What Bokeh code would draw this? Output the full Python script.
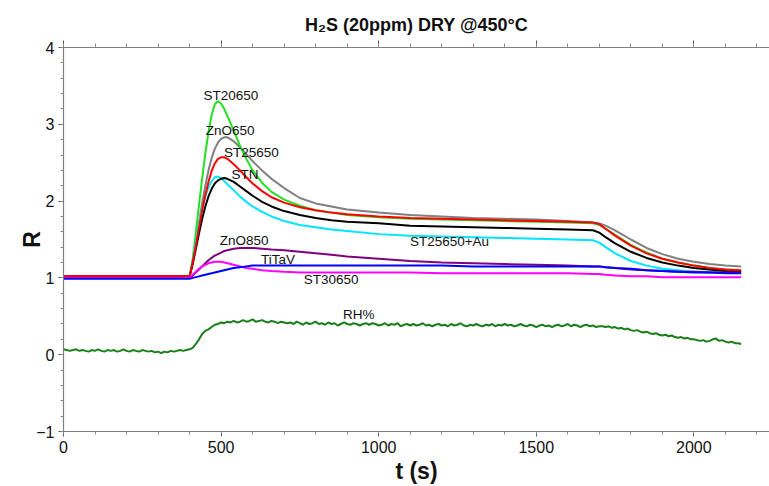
from bokeh.plotting import figure
from bokeh.models import LinearAxis, SingleIntervalTicker, Label, CustomJSTickFormatter
from bokeh.embed import file_html
from bokeh.resources import INLINE

# Sensor response R versus time (s) on a shared time grid
t = [0, 390, 400, 410, 420, 430, 440, 450, 460, 470, 480, 490, 500, 510, 520,
     540, 560, 580, 600, 630, 660, 700, 750, 800, 850, 900, 1000, 1100, 1200,
     1300, 1400, 1500, 1600, 1680, 1700, 1720, 1750, 1800, 1850, 1900, 1950,
     2000, 2050, 2100, 2150]

st20650 = [1.00, 1.00, 1.01, 1.25, 1.60, 1.95, 2.30, 2.62, 2.90, 3.12, 3.26, 3.30, 3.27, 3.20, 3.11,
           2.92, 2.72, 2.55, 2.40, 2.24, 2.12, 2.02, 1.94, 1.88, 1.85, 1.82, 1.79, 1.77, 1.76,
           1.75, 1.74, 1.73, 1.72, 1.71, 1.69, 1.64, 1.56, 1.43, 1.33, 1.25, 1.20,
           1.16, 1.13, 1.11, 1.09]
zno650 = [1.00, 1.00, 1.01, 1.20, 1.45, 1.72, 1.98, 2.20, 2.40, 2.56, 2.68, 2.76, 2.81, 2.83, 2.83,
          2.78, 2.70, 2.61, 2.52, 2.40, 2.29, 2.17, 2.04, 1.97, 1.93, 1.89, 1.85, 1.82, 1.80,
          1.78, 1.77, 1.76, 1.74, 1.72, 1.71, 1.68, 1.62, 1.50, 1.39, 1.31, 1.25,
          1.21, 1.18, 1.16, 1.15]
st25650 = [1.02, 1.02, 1.02, 1.20, 1.42, 1.66, 1.88, 2.08, 2.25, 2.39, 2.49, 2.55, 2.57, 2.57, 2.55,
           2.48, 2.40, 2.31, 2.23, 2.13, 2.05, 1.98, 1.92, 1.88, 1.85, 1.83, 1.80, 1.78, 1.77,
           1.76, 1.75, 1.74, 1.73, 1.72, 1.70, 1.64, 1.55, 1.42, 1.32, 1.25, 1.20,
           1.16, 1.13, 1.11, 1.10]
stn = [1.02, 1.02, 1.02, 1.18, 1.38, 1.58, 1.77, 1.93, 2.06, 2.16, 2.23, 2.27, 2.29, 2.30, 2.29,
       2.25, 2.19, 2.13, 2.07, 1.99, 1.93, 1.87, 1.82, 1.78, 1.75, 1.73, 1.71, 1.68, 1.67,
       1.66, 1.65, 1.64, 1.63, 1.62, 1.59, 1.53, 1.45, 1.34, 1.26, 1.20, 1.16,
       1.13, 1.11, 1.09, 1.08]
st25650_au = [1.00, 1.00, 1.01, 1.22, 1.47, 1.70, 1.90, 2.06, 2.18, 2.26, 2.31, 2.32, 2.30, 2.26, 2.22,
              2.14, 2.06, 1.99, 1.93, 1.86, 1.80, 1.74, 1.69, 1.66, 1.63, 1.61, 1.57, 1.55, 1.54,
              1.53, 1.52, 1.51, 1.50, 1.49, 1.46, 1.40, 1.32, 1.22, 1.16, 1.12, 1.10,
              1.08, 1.08, 1.07, 1.07]
zno850 = [1.00, 1.00, 1.00, 1.03, 1.07, 1.11, 1.15, 1.19, 1.23, 1.26, 1.29, 1.31, 1.33, 1.35, 1.36,
          1.38, 1.39, 1.39, 1.39, 1.38, 1.37, 1.36, 1.34, 1.32, 1.30, 1.28, 1.25, 1.22, 1.20,
          1.19, 1.18, 1.17, 1.16, 1.15, 1.15, 1.14, 1.13, 1.11, 1.10, 1.09, 1.08,
          1.08, 1.07, 1.07, 1.07]
titav = [0.99, 0.99, 0.99, 1.00, 1.01, 1.02, 1.03, 1.04, 1.05, 1.06, 1.07, 1.08, 1.09, 1.10, 1.11,
         1.13, 1.14, 1.15, 1.16, 1.16, 1.16, 1.16, 1.16, 1.16, 1.16, 1.16, 1.16, 1.16, 1.16,
         1.15, 1.15, 1.15, 1.15, 1.15, 1.15, 1.14, 1.13, 1.12, 1.10, 1.09, 1.08,
         1.07, 1.07, 1.06, 1.06]
st30650 = [1.00, 1.00, 1.00, 1.04, 1.08, 1.12, 1.15, 1.17, 1.19, 1.20, 1.21, 1.21, 1.21, 1.20, 1.19,
           1.17, 1.15, 1.13, 1.12, 1.10, 1.09, 1.08, 1.07, 1.07, 1.07, 1.07, 1.07, 1.07, 1.06,
           1.06, 1.06, 1.06, 1.06, 1.05, 1.05, 1.04, 1.03, 1.02, 1.02, 1.01, 1.01,
           1.01, 1.01, 1.01, 1.01]

# Relative humidity trace, sampled every 10 s
rh_t = list(range(0, 2160, 10))
rh = [0.07, 0.06, 0.05, 0.06, 0.07, 0.05, 0.06, 0.05, 0.04, 0.06,
      0.05, 0.07, 0.05, 0.04, 0.06, 0.05, 0.06, 0.04, 0.05, 0.07,
      0.05, 0.04, 0.06, 0.05, 0.04, 0.06, 0.05, 0.04, 0.05, 0.03,
      0.04, 0.02, 0.04, 0.03, 0.05, 0.04, 0.05, 0.06, 0.05, 0.06,
      0.07,
      0.09, 0.14, 0.20, 0.27, 0.31, 0.33, 0.36, 0.39, 0.40, 0.42,
      0.41, 0.43, 0.42, 0.44, 0.42, 0.43, 0.45, 0.43, 0.44, 0.46,
      0.43, 0.44, 0.45, 0.43, 0.42, 0.44, 0.43, 0.41, 0.43, 0.42,
      0.41, 0.42, 0.40, 0.43, 0.41, 0.39, 0.42, 0.40, 0.41, 0.43,
      0.40, 0.41, 0.39, 0.42, 0.40, 0.41, 0.38, 0.40, 0.42, 0.40,
      0.39, 0.41, 0.40, 0.38, 0.40, 0.41, 0.39, 0.41, 0.40, 0.38,
      0.39, 0.41, 0.38, 0.40, 0.39, 0.41, 0.37, 0.39, 0.40, 0.38,
      0.40, 0.38, 0.39, 0.41, 0.38, 0.39, 0.37, 0.39, 0.40, 0.38,
      0.39, 0.37, 0.40, 0.38, 0.39, 0.41, 0.38, 0.37, 0.39, 0.38,
      0.40, 0.38, 0.37, 0.39, 0.38, 0.40, 0.37, 0.39, 0.38, 0.40,
      0.38, 0.39, 0.37, 0.38, 0.40, 0.38, 0.37, 0.39, 0.38, 0.36,
      0.38, 0.39, 0.37, 0.38, 0.36, 0.38, 0.39, 0.37, 0.38, 0.40,
      0.37, 0.39, 0.38, 0.36, 0.38, 0.39, 0.37, 0.38, 0.36, 0.37,
      0.37, 0.36, 0.37, 0.35, 0.36, 0.34, 0.35, 0.33, 0.34, 0.32,
      0.31, 0.32, 0.30, 0.29, 0.30, 0.28, 0.27, 0.28, 0.26, 0.25,
      0.26, 0.24, 0.25, 0.23, 0.22, 0.23, 0.21, 0.22, 0.20, 0.20,
      0.19, 0.18, 0.19, 0.17, 0.18, 0.20, 0.21, 0.18, 0.19, 0.17,
      0.16, 0.17, 0.15, 0.15, 0.14]

# (series, colour) in drawing order
series = [
    (zno650, "#808080"),
    (st20650, "#22e022"),
    (st25650_au, "#00e5ff"),
    (stn, "#000000"),
    (st25650, "#ff0000"),
    (zno850, "#800080"),
    (st30650, "#ff00ff"),
    (titav, "#0000ff"),
]

# Curve annotations: text, t, R
curve_labels = [
    ("ST20650", 444, 3.38),
    ("ZnO650", 451, 2.92),
    ("ST25650", 509, 2.63),
    ("STN", 533, 2.34),
    ("ZnO850", 496, 1.49),
    ("TiTaV", 627, 1.24),
    ("ST30650", 762, 0.975),
    ("ST25650+Au", 1099, 1.48),
    ("RH%", 887, 0.52),
]

FONT = "Liberation Sans"

p = figure(width=769, height=486, x_range=(0, 2240), y_range=(-1, 4),
           output_backend="svg", toolbar_location=None,
           min_border_left=63, min_border_right=0,
           min_border_top=47, min_border_bottom=53,
           title="H₂S (20ppm) DRY @450°C")
p.grid.visible = False
p.outline_line_color = None
p.background_fill_color = "white"
p.border_fill_color = "white"

p.title.align = "center"
p.title.text_font = FONT
p.title.text_font_size = "18px"
p.title.text_font_style = "bold"
p.title.text_color = "#111111"
p.title.standoff = 11

p.xaxis.ticker = SingleIntervalTicker(interval=500, num_minor_ticks=5)
p.yaxis.ticker = SingleIntervalTicker(interval=1, num_minor_ticks=5)

for ax in (p.xaxis[0], p.yaxis[0]):
    ax.axis_line_color = "#7f7f7f"
    ax.axis_line_width = 1.2
    ax.major_tick_line_color = "#555555"
    ax.minor_tick_line_color = "#8a8a8a"
    ax.major_tick_in = 0
    ax.minor_tick_in = 0
    ax.major_tick_out = 5
    ax.minor_tick_out = 3
    ax.major_label_text_font = FONT
    ax.major_label_text_font_size = "16px"
    ax.major_label_text_color = "#111111"
    ax.major_label_standoff = 4
    ax.axis_label_text_font = FONT
    ax.axis_label_text_font_size = "23px"
    ax.axis_label_text_font_style = "bold"
    ax.axis_label_text_color = "#111111"

p.xaxis.axis_label = "t (s)"
p.xaxis.axis_label_standoff = 2
p.yaxis.axis_label = "R"
p.yaxis.axis_label_standoff = -12

top = LinearAxis(ticker=SingleIntervalTicker(interval=500, num_minor_ticks=5),
                 formatter=CustomJSTickFormatter(code="return ''"))
top.axis_line_color = "#7f7f7f"
top.axis_line_width = 1.2
top.major_tick_line_color = "#555555"
top.minor_tick_line_color = "#8a8a8a"
top.major_tick_in = 0
top.minor_tick_in = 0
top.major_tick_out = 7
top.minor_tick_out = 4
top.major_label_standoff = 0
p.add_layout(top, "above")

p.line(rh_t, rh, line_color="#1a7f1a", line_width=2)
for ys, col in series:
    p.line(t, ys, line_color=col, line_width=2)

for txt, x, y in curve_labels:
    p.add_layout(Label(x=x, y=y, text=txt, text_font=FONT, text_font_size="13.5px",
                       text_color="#111111", text_baseline="middle", text_align="left"))

open("out.html", "w").write(file_html(p, INLINE))
